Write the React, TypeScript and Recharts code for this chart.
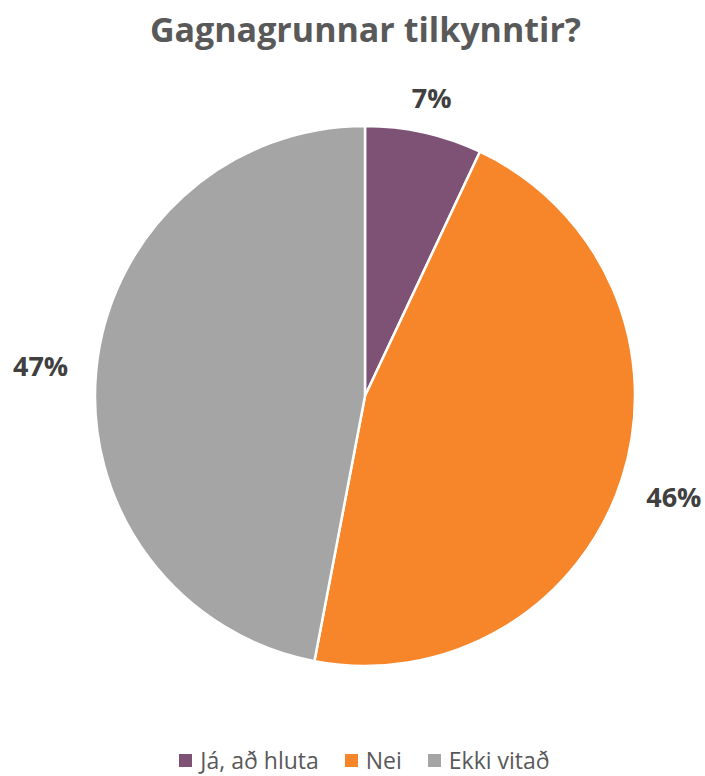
import React from 'react'
import { PieChart, Pie, Cell, Legend } from 'recharts'

// ── Data ───────────────────────────────────────────────────────────────────

const categories = ['Já, að hluta', 'Nei', 'Ekki vitað']
const shares = [7, 46, 47]
const colors = ['#7E5274', '#F7862B', '#A5A5A5']

const data = categories.map((name, i) => ({ name, value: shares[i] }))

const RAD = Math.PI / 180

function renderLabel(props: any) {
  const { cx, cy, midAngle, outerRadius, value } = props
  const c = Math.abs(Math.cos(-midAngle * RAD))
  const r = outerRadius + 30 + 26 * c
  const x = cx + r * Math.cos(-midAngle * RAD)
  const y = cy + r * Math.sin(-midAngle * RAD)
  return (
    <text x={x} y={y} fill="#404040" fontSize={27} fontWeight="bold"
      fontFamily="'Open Sans', sans-serif" textAnchor="middle" dominantBaseline="central">
      {`${value}%`}
    </text>
  )
}

function LegendContent() {
  return (
    <div style={{ display: 'flex', justifyContent: 'center', gap: 26, fontFamily: "'Open Sans', sans-serif", fontSize: 23, color: '#595959' }}>
      {categories.map((c, i) => (
        <div key={c} style={{ display: 'flex', alignItems: 'center', gap: 8 }}>
          <span style={{ width: 13, height: 13, background: colors[i], display: 'inline-block' }} />
          <span>{c}</span>
        </div>
      ))}
    </div>
  )
}

export default function App() {
  return (
    <div style={{ position: 'absolute', left: 0, top: 0, width: 705, height: 776, background: '#fff' }}>
      <div style={{ position: 'absolute', top: 6, left: 0, width: 731, textAlign: 'center',
        fontFamily: "'Open Sans', sans-serif", fontWeight: 'bold', fontSize: 34, color: '#595959' }}>
        Gagnagrunnar tilkynntir?
      </div>
      <PieChart width={705} height={776} margin={{ top: 0, right: 0, bottom: 0, left: 0 }}>
        <Pie
          data={data}
          dataKey="value"
          nameKey="name"
          cx={365}
          cy={396}
          outerRadius={270}
          startAngle={90}
          endAngle={-270}
          stroke="#fff"
          strokeWidth={2.5}
          label={renderLabel}
          labelLine={false}
          isAnimationActive={false}
        >
          {data.map((d, i) => <Cell key={d.name} fill={colors[i]} />)}
        </Pie>
        <Legend verticalAlign="bottom" content={<LegendContent />} wrapperStyle={{ bottom: 0, left: 12 }} />
      </PieChart>
    </div>
  )
}
